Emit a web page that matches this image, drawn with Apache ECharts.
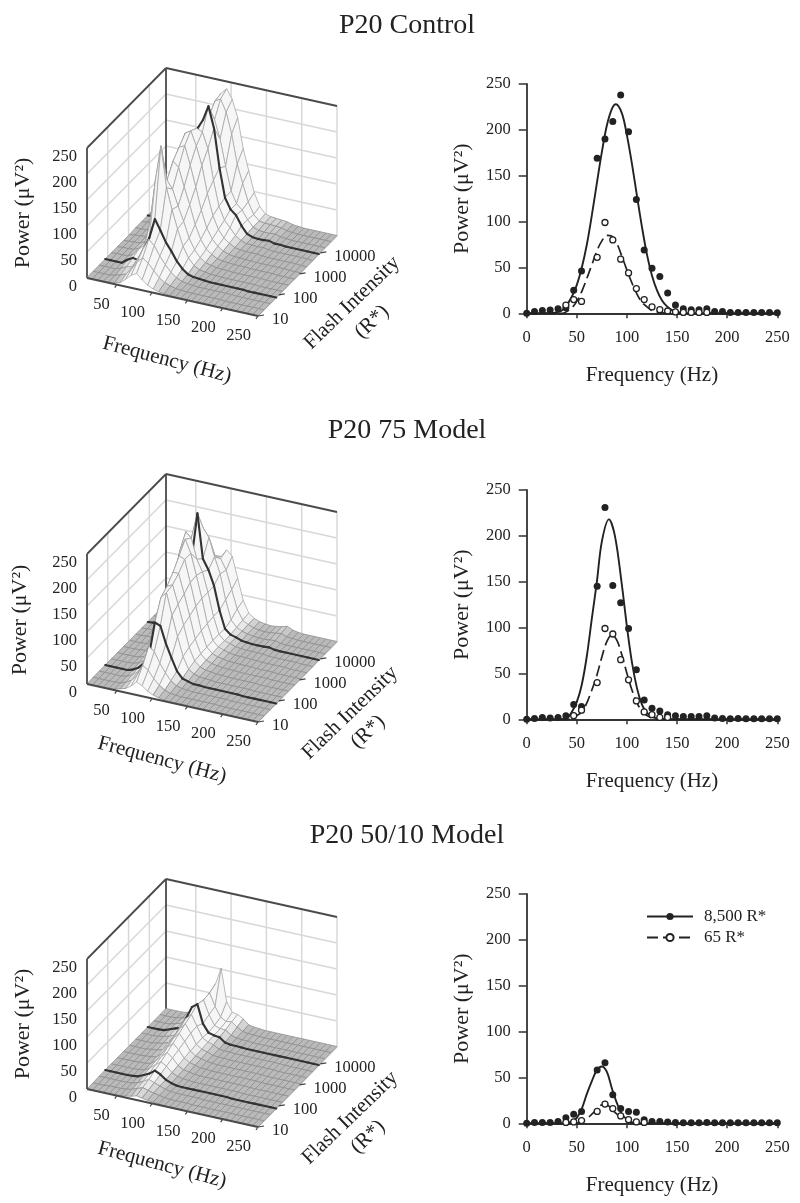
<!DOCTYPE html>
<html>
<head>
<meta charset="utf-8">
<style>html,body{margin:0;padding:0;background:#fff}#c{width:800px;height:1203px}</style>
<script src="https://cdn.jsdelivr.net/npm/echarts@6/dist/echarts.min.js"></script>
</head>
<body>
<div id="c"></div>
<script>
// ---------- text ----------
const panelTitles = ['P20 Control', 'P20 75 Model', 'P20 50/10 Model'];
const powerTicks = [0, 50, 100, 150, 200, 250];
const freqTicks3d = [50, 100, 150, 200, 250];
const flashTicks = [10, 100, 1000, 10000];
const legendNames = ['8,500 R*', '65 R*'];

// ---------- measured points (2D panels) ----------
const pointFreqs = [0,7.8,15.6,23.4,31.25,39.1,46.9,54.7,62.5,70.3,78.1,85.9,93.75,101.6,109.4,117.2,125,132.8,140.6,148.4,156.25,164.1,171.9,179.7,187.5,195.3,203.1,210.9,218.75,226.6,234.4,242.2,250];
const controlBright = [0,2,3,3.5,5,6,25,46,null,169,190,209,238,198,124,69,49,40,22,9,5,4,4,5,2,2,1,1,1,1,1,1,0.5];
const controlDim = [null,null,null,null,null,9,15,13,null,61,99,80,59,44,27,15,7,4,2.5,1.5,1,1,1,1,null,null,null,null,null,null,null,null,null];
const model75Bright = [0,1,2,1.5,2,4,16,14,null,145,231,146,127,99,54,21,12,9,5,4,3,3,3,4,1.5,1,0.5,1,0.5,0.5,0.5,0.5,0.5];
const model75Dim = [null,null,null,null,null,null,4,10,null,40,99,93,65,43,20,8,5,2,2,null,null,null,null,null,null,null,null,null,null,null,null,null,null];
const model50Bright = [0,1,1,1,2,6,10,13,null,58,66,31,16,13,12,4,2,2,1.5,1,0.5,0.5,0.5,1,0.5,0.5,0.5,0.5,0.5,0.5,0.5,0.5,0.5];
const model50Dim = [null,null,null,null,null,1,1.5,3,null,13,21,16,8,4,1.5,1,null,null,null,null,null,null,null,null,null,null,null,null,null,null,null,null,null];

// ---------- fitted curves (2D panels) ----------
const fitFreqsA = [0,25,30,35,40,45,50,55,60,65,70,75,80,85,89,95,100,105,110,115,120,125,130,135,140,145,150,155,160,250];
const controlBrightFit = [0,0,1,3,9,18,31,50,75,107,142,176,205,223,228,218,194,163,128,94,64,41,25,14,7.5,3.5,1.6,0.5,0,0];
const fitFreqsB = [0,35,40,45,50,55,60,65,70,75,80,85,90,95,100,105,110,115,120,125,130,135,140,250];
const controlDimFit = [0,0,2,6,13,24,38,53,68,79,85,84,76,62,47,33,21,12,7,3,1.5,0.5,0,0];
const fitFreqsC = [0,35,40,45,50,55,60,65,70,75,82,88,95,100,105,110,115,120,125,130,135,250];
const model75BrightFit = [0,0,1,8,19,38,69,110,150,194,218,200,146,101,62,34,16,7,3,1,0,0];
const fitFreqsD = [0,40,45,50,55,60,65,70,75,80,85,90,95,100,105,110,115,120,125,130,250];
const model75DimFit = [0,0,1,4,8,18,32,48,68,85,92,86,70,50,32,18,9,4,1.5,0,0];
const fitFreqsE = [0,40,45,50,55,60,65,70,75,80,85,90,95,100,105,110,250];
const model50BrightFit = [0,0,2,6,16,32,46,58,62,56,38,22,10,4,1,0,0];
const fitFreqsF = [0,50,55,60,65,70,75,80,85,90,95,100,105,110,250];
const model50DimFit = [0,0,2,5,10,15,20,20,15,10,5,2,0.5,0,0];

// ---------- surfaces: one row per flash level (front to back), one value per frequency ----------
const surfaceFreqs = [7.8,15.6,23.4,31.25,39.1,46.9,54.7,62.5,70.3,78.1,85.9,93.75,101.6,109.4,117.2,125,132.8,140.6,148.4,156.25,164.1,171.9,179.7,187.5,195.3,203.1,210.9,218.75,226.6,234.4,242.2,250];
const surfaceControl = [
[1,1,1,1,2,3,5,14,24,30,20,12,7,4,3,2,1,1,1,1,1,1,1,0,0,0,0,0,0,0,0,0],
[1,1,1,1,3,6,10,22,38,48,40,28,17,10,6,3,2,1,1,1,1,1,1,1,0,0,0,0,0,0,0,0],
[1,1,1,1,5,10,12,30,52,72,62,44,30,18,10,5,3,2,1,1,1,1,1,1,1,0,0,0,0,0,0,0],
[1,1,1,1,9,15,13,35,61,99,80,59,44,27,15,7,4,3,2,1,1,1,1,1,1,1,0,0,0,0,0,0],
[1,2,2,2,8,20,30,75,160,228,150,110,75,44,24,12,6,4,2,2,1,1,1,1,1,1,1,0,0,0,0,0],
[1,2,2,3,8,22,38,70,110,150,135,105,78,48,28,15,8,5,3,2,2,1,1,1,1,1,1,0,0,0,0,0],
[1,2,3,3,9,24,42,85,135,175,165,130,98,62,36,20,12,6,4,3,2,2,2,1,1,1,1,1,0,0,0,0],
[1,2,3,4,9,25,45,95,155,190,195,160,120,78,46,27,16,9,5,3,3,2,2,1,1,1,1,1,1,0,0,0],
[2,2,3,4,9,25,46,100,170,205,212,185,150,98,58,34,20,12,6,4,3,3,3,2,1,1,1,1,1,1,0,0],
[2,3,3,4,8,25,46,100,165,190,205,200,170,112,64,40,28,15,8,4,4,3,4,2,1,1,1,1,1,1,1,0],
[2,3,4,5,6,25,46,105,169,190,209,238,198,124,69,49,40,22,9,5,4,4,5,2,2,1,1,1,1,1,1,1],
[2,3,4,5,7,22,40,85,140,180,205,200,165,115,70,48,38,22,10,6,5,5,6,3,2,1,1,1,1,1,1,1],
[2,3,4,4,6,18,35,75,130,180,222,228,205,165,110,75,42,20,10,8,8,7,6,3,2,1,1,1,1,1,1,1],
[2,3,3,4,5,15,30,65,120,175,225,236,218,185,128,88,48,24,12,9,8,7,6,3,2,1,1,1,1,1,1,1]
];
const surfaceModel75 = [
[0,0,1,1,1,2,5,8,15,25,20,12,7,4,2,1,1,1,1,1,1,1,0,0,0,0,0,0,0,0,0,0],
[1,1,1,1,1,2,6,12,24,45,38,24,14,7,3,2,1,1,1,1,1,1,1,0,0,0,0,0,0,0,0,0],
[1,1,1,1,1,3,8,16,32,70,62,42,26,13,6,3,2,1,1,1,1,1,1,1,0,0,0,0,0,0,0,0],
[1,1,1,1,1,4,10,20,42,104,100,68,43,20,8,5,2,2,1,1,1,1,1,1,1,0,0,0,0,0,0,0],
[1,1,1,1,2,5,12,28,70,140,152,110,72,36,14,7,4,3,2,1,1,1,1,1,1,1,0,0,0,0,0,0],
[1,1,1,1,2,6,14,35,85,150,155,120,82,42,18,9,5,4,2,2,1,1,1,1,1,1,0,0,0,0,0,0],
[1,1,1,2,3,8,16,45,105,165,165,128,88,46,20,10,6,4,3,2,2,1,1,1,1,1,1,0,0,0,0,0],
[1,1,1,2,3,10,18,60,135,185,180,138,95,50,21,11,7,5,3,3,2,2,2,1,1,1,1,0,0,0,0,0],
[1,1,2,2,3,12,18,80,180,205,180,140,98,52,22,12,8,5,3,3,3,2,2,1,1,1,1,1,0,0,0,0],
[1,2,2,2,3,14,16,100,205,195,157,135,98,54,22,12,9,5,4,3,3,3,3,1,1,1,1,1,1,0,0,0],
[1,2,1.5,2,4,16,14,70,145,231,146,127,99,54,21,12,9,5,4,3,3,3,4,1.5,1,1,1,1,1,1,1,1],
[1,2,2,2,4,14,14,50,120,190,175,140,110,62,26,14,9,6,4,3,3,4,5,2,1,1,1,1,1,1,1,1],
[1,1,2,2,3,10,12,35,85,130,128,125,105,70,35,16,10,6,4,3,4,5,7,3,2,1,1,1,1,1,1,1],
[1,1,1,1,2,6,8,20,50,85,115,130,120,80,40,18,10,6,4,3,4,6,9,4,2,1,1,1,1,1,1,1]
];
const surfaceModel50 = [
[0,0,0,0,0,1,1,3,5,8,6,4,3,2,1,1,1,0,0,0,0,0,0,0,0,0,0,0,0,0,0,0],
[0,0,0,1,1,1,2,4,8,12,9,6,4,2,1,1,1,1,0,0,0,0,0,0,0,0,0,0,0,0,0,0],
[1,1,1,1,1,1,2,5,10,16,12,8,4,2,1,1,1,1,1,0,0,0,0,0,0,0,0,0,0,0,0,0],
[1,1,1,1,1,1.5,3,8,13,21,16,8,4,1.5,1,1,1,1,1,1,1,1,1,0,0,0,0,0,0,0,0,0],
[1,1,1,1,1,2,3,10,18,26,20,10,5,3,2,1,1,1,1,1,1,1,1,1,0,0,0,0,0,0,0,0],
[1,1,1,1,2,2,4,12,22,32,24,12,6,4,2,1,1,1,1,1,1,1,1,1,0,0,0,0,0,0,0,0],
[1,1,1,1,2,3,5,14,28,38,28,14,8,5,2,2,1,1,1,1,1,1,1,1,1,0,0,0,0,0,0,0],
[1,1,1,1,3,4,7,18,34,45,32,16,9,6,3,2,1,1,1,1,1,1,1,1,1,0,0,0,0,0,0,0],
[1,1,1,1,3,5,9,24,40,52,36,17,10,7,3,2,2,1,1,1,1,1,1,1,1,1,0,0,0,0,0,0],
[1,1,1,2,4,7,11,30,48,58,38,18,12,9,3,2,2,1,1,1,1,1,1,1,1,1,0,0,0,0,0,0],
[1,1,1,2,6,10,13,35,58,66,31,16,13,12,4,2,2,1.5,1,1,1,1,1,1,1,1,1,1,1,1,1,1],
[1,1,1,2,5,8,10,26,50,62,36,18,14,14,6,3,2,2,1,1,1,1,1,1,1,1,1,1,1,1,1,1],
[1,1,1,2,4,6,8,20,42,64,40,22,16,18,10,4,2,2,1,1,1,1,1,1,1,1,1,1,1,1,1,1],
[1,1,1,1,3,4,6,14,35,70,102,40,22,20,14,5,3,2,1,1,1,1,1,1,1,1,1,1,1,1,1,1]
];
const boldRows = [3, 10];

// ---------- layout ----------
const FONT = '"Liberation Serif","Times New Roman",serif';
const INK = '#222';
const panels = [
  {base: 278, top2d: 84, surf: surfaceControl, power: [23,213], freq: [167,360], flash: [352,303], r: [372,322],
   ptsA: controlBright, ptsB: controlDim, fitA: [fitFreqsA, controlBrightFit], fitB: [fitFreqsB, controlDimFit], title: 24},
  {base: 684, top2d: 490, surf: surfaceModel75, power: [20,620], freq: [162,760], flash: [350,713], r: [368,732],
   ptsA: model75Bright, ptsB: model75Dim, fitA: [fitFreqsC, model75BrightFit], fitB: [fitFreqsD, model75DimFit], title: 429},
  {base: 1089, top2d: 894, surf: surfaceModel50, power: [23,1024], freq: [162,1165], flash: [350,1118], r: [368,1137],
   ptsA: model50Bright, ptsB: model50Dim, fitA: [fitFreqsE, model50BrightFit], fitB: [fitFreqsF, model50DimFit], title: 834}
];

// oblique projection of (frequency, flash position, power) to the hidden plane axes
const aOf = f => (f - surfaceFreqs[0]) / (250 - surfaceFreqs[0]);
const tOfFlash = v => (Math.log10(v) - 1) * 0.263;
const proj = (a, t, z) => [171 * a + 79 * t, 130 * z / 250 + 80 * t - 38 * a];

const grids = [], xAxes = [], yAxes = [], series = [], titles = [], graphics = [];

function txt(x, y, text, size, rot, align) {
  return {type: 'text', x, y, rotation: (rot || 0) * Math.PI / 180, silent: true,
    style: {text, fill: INK, font: size + 'px ' + FONT, align: align || 'center', verticalAlign: 'middle'}};
}

panels.forEach((p, k) => {
  titles.push({text: panelTitles[k], left: 402, top: p.title - 18, textAlign: 'center',
    textStyle: {fontFamily: FONT, fontSize: 28, fontWeight: 'normal', color: INK, lineHeight: 30}});

  // ---- 3D panel on a hidden plane grid ----
  const gi = grids.length;
  grids.push({left: 87, top: p.base - 210, width: 250, height: 250});
  xAxes.push({type: 'value', gridIndex: gi, min: 0, max: 250, show: false});
  yAxes.push({type: 'value', gridIndex: gi, min: -40, max: 210, show: false});

  const walls = [];
  const seg = (a0, t0, z0, a1, t1, z1, strong) => walls.push({from: proj(a0, t0, z0), to: proj(a1, t1, z1), strong});
  powerTicks.slice(1, -1).forEach(z => { seg(0, 0, z, 0, 1, z); seg(0, 1, z, 1, 1, z); });
  flashTicks.slice(1).forEach(v => seg(0, tOfFlash(v), 0, 0, tOfFlash(v), 250));
  freqTicks3d.forEach(f => seg(aOf(f), 1, 0, aOf(f), 1, 250));
  seg(1, 0, 0, 1, 1, 0);
  seg(0, 0, 0, 0, 0, 250, true); seg(0, 1, 0, 0, 1, 250, true);
  seg(0, 0, 250, 0, 1, 250, true); seg(0, 1, 250, 1, 1, 250, true);
  series.push({type: 'custom', xAxisIndex: gi, yAxisIndex: gi, silent: true, clip: false, z: 1,
    data: walls.map((_, i) => [i, 0]),
    renderItem(params, api) {
      const w = walls[params.dataIndex], s = api.coord(w.from), e = api.coord(w.to);
      return {type: 'line', shape: {x1: s[0], y1: s[1], x2: e[0], y2: e[1]},
        style: {stroke: w.strong ? '#4a4a4a' : '#d8d8d8', lineWidth: w.strong ? 1.8 : 1.5}};
    }});

  // surface drawn back to front: a band of quads, then the bold flash line behind the next band
  const rows = p.surf, n = rows[0].length, last = rows.length - 1;
  const tOfRow = r => r / last;
  const marks = [];
  for (let r = last - 1; r >= 0; r--) {
    for (let j = 0; j < n - 1; j++) marks.push({kind: 0, j, r});
    if (boldRows.includes(r + 1)) for (let j = 0; j < n - 1; j++) marks.push({kind: 1, j, r: r + 1});
  }
  series.push({type: 'custom', xAxisIndex: gi, yAxisIndex: gi, silent: true, clip: false, z: 2,
    data: marks.map((_, i) => [i % 250, 0]),
    renderItem(params, api) {
      const m = marks[params.dataIndex], j = m.j, r = m.r;
      const pt = (c, w, z) => proj(aOf(surfaceFreqs[c]), tOfRow(w), z === undefined ? rows[w][c] : z);
      if (m.kind === 1) {
        const s = api.coord(pt(j, r)), e = api.coord(pt(j + 1, r));
        return {type: 'line', shape: {x1: s[0], y1: s[1], x2: e[0], y2: e[1]},
          style: {stroke: '#333', lineWidth: 2.1, lineCap: 'round'}};
      }
      const raw = [pt(j, r), pt(j + 1, r), pt(j + 1, r + 1), pt(j, r + 1)];
      const flat = [pt(j, r, 0), pt(j + 1, r, 0), pt(j + 1, r + 1, 0), pt(j, r + 1, 0)];
      const area = q => q.reduce((s, v, i) => { const u = q[(i + 1) % 4]; return s + v[0] * u[1] - u[0] * v[1]; }, 0);
      const back = area(raw) * area(flat) < 0;
      const zm = (rows[r][j] + rows[r][j + 1] + rows[r + 1][j] + rows[r + 1][j + 1]) / 4;
      const mix = Math.max(0, Math.min(1, (zm - 3) / 12));
      let g = Math.round(186 + (246 - 186) * mix);
      if (back) g = 135;
      return {type: 'polygon', shape: {points: raw.map(q => api.coord(q))},
        style: {fill: 'rgb(' + g + ',' + g + ',' + g + ')', stroke: back ? '#707070' : (mix > 0.5 ? '#a4a4a4' : '#8c8c8c'), lineWidth: 0.75, lineJoin: 'round'}};
    }});

  // front edge, ticks and labels
  const over = [];
  powerTicks.forEach(z => over.push({label: String(z), at: proj(0, 0, z), dx: -10, dy: 8.5, align: 'right'}));
  freqTicks3d.forEach(f => { over.push({label: String(f), at: proj(aOf(f), 0, 0), dx: -7, dy: 20, align: 'right'});
                             over.push({tick: [-2, 3], at: proj(aOf(f), 0, 0)}); });
  flashTicks.forEach(v => { over.push({label: String(v), at: proj(1, tOfFlash(v), 0), dx: 14, dy: 4, align: 'left'});
                            over.push({tick: [6, -1], at: proj(1, tOfFlash(v), 0)}); });
  over.push({edge: [proj(0, 0, 0), proj(1, 0, 0)]});
  series.push({type: 'custom', xAxisIndex: gi, yAxisIndex: gi, silent: true, clip: false, z: 3,
    data: over.map((_, i) => [i, 0]),
    renderItem(params, api) {
      const o = over[params.dataIndex];
      if (o.edge) {
        const s = api.coord(o.edge[0]), e = api.coord(o.edge[1]);
        return {type: 'line', shape: {x1: s[0], y1: s[1], x2: e[0], y2: e[1]}, style: {stroke: '#4a4a4a', lineWidth: 1.8}};
      }
      const c = api.coord(o.at);
      if (o.tick) return {type: 'line', shape: {x1: c[0], y1: c[1], x2: c[0] + o.tick[0], y2: c[1] + o.tick[1]}, style: {stroke: '#444', lineWidth: 1.2}};
      return {type: 'text', x: c[0] + o.dx, y: c[1] + o.dy,
        style: {text: o.label, fill: INK, font: '16.5px ' + FONT, align: o.align, verticalAlign: 'middle'}};
    }});

  graphics.push(txt(p.power[0], p.power[1], 'Power (μV²)', 22, 90));
  graphics.push(txt(p.freq[0], p.freq[1], 'Frequency (Hz)', 21, -15));
  graphics.push(txt(p.flash[0], p.flash[1], 'Flash Intensity', 21, 44));
  graphics.push(txt(p.r[0], p.r[1], '(R*)', 21, 44));

  // ---- 2D panel ----
  const gj = grids.length;
  grids.push({left: 526.7, top: p.top2d, width: 250.6, height: 229.3});
  xAxes.push({type: 'value', gridIndex: gj, min: 0, max: 250, interval: 50,
    name: 'Frequency (Hz)', nameLocation: 'middle', nameGap: 52,
    nameTextStyle: {fontFamily: FONT, fontSize: 21, color: INK},
    axisLine: {onZero: false, lineStyle: {color: '#333', width: 1.8}},
    axisTick: {show: true, length: 5, lineStyle: {color: '#333', width: 1.5}},
    axisLabel: {fontFamily: FONT, fontSize: 16.5, color: INK, margin: 16, showMinLabel: true, showMaxLabel: true},
    splitLine: {show: false}});
  yAxes.push({type: 'value', gridIndex: gj, min: 0, max: 250, interval: 50,
    name: 'Power (μV²)', nameLocation: 'middle', nameGap: 53, nameRotate: 90,
    nameTextStyle: {fontFamily: FONT, fontSize: 22, color: INK},
    axisLine: {show: true, lineStyle: {color: '#333', width: 1.8}},
    axisTick: {show: true, length: 8, lineStyle: {color: '#333', width: 1.5}},
    axisLabel: {fontFamily: FONT, fontSize: 16.5, color: INK, margin: 16, showMinLabel: true, showMaxLabel: true},
    splitLine: {show: false}});
  const pair = (xs, ys) => xs.map((x, i) => [x, ys[i]]);
  const isLast = k === panels.length - 1;
  const common = {xAxisIndex: gj, yAxisIndex: gj, silent: true};
  series.push(Object.assign({type: 'line', name: isLast ? legendNames[0] : panelTitles[k] + ' bright fit', data: pair(p.fitA[0], p.fitA[1]),
    smooth: 0.35, symbol: 'circle', symbolSize: 7, showSymbol: false, z: 4,
    itemStyle: {color: INK}, lineStyle: {color: INK, width: 1.9}}, common));
  series.push(Object.assign({type: 'line', name: isLast ? legendNames[1] : panelTitles[k] + ' dim fit', data: pair(p.fitB[0], p.fitB[1]),
    smooth: 0.35, symbol: 'circle', symbolSize: 6, showSymbol: false, z: 4,
    itemStyle: {color: '#fff', borderColor: INK, borderWidth: 1.2}, lineStyle: {color: INK, width: 1.7, type: [11, 5]}}, common));
  series.push(Object.assign({type: 'scatter', name: panelTitles[k] + ' bright', data: pair(pointFreqs, p.ptsA),
    symbol: 'circle', symbolSize: 7, z: 5, itemStyle: {color: INK, opacity: 1}}, common));
  series.push(Object.assign({type: 'scatter', name: panelTitles[k] + ' dim', data: pair(pointFreqs, p.ptsB),
    symbol: 'circle', symbolSize: 6, z: 6, itemStyle: {color: '#fff', borderColor: INK, borderWidth: 1.3, opacity: 1}}, common));
});

const chart = echarts.init(document.getElementById('c'), null, {renderer: 'canvas', width: 800, height: 1203});
chart.setOption({
  animation: false,
  backgroundColor: '#fff',
  title: titles,
  grid: grids,
  xAxis: xAxes,
  yAxis: yAxes,
  legend: {data: legendNames, left: 641, top: 903, orient: 'vertical', itemWidth: 46, itemHeight: 9, itemGap: 4,
    selectedMode: false, textStyle: {fontFamily: FONT, fontSize: 17, color: INK, padding: [0, 0, 0, 6]}},
  graphic: graphics,
  series
});
</script>
</body>
</html>
